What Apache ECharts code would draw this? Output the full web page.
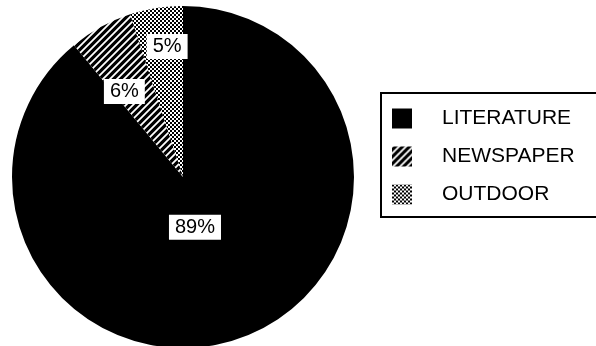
<!DOCTYPE html>
<html>
<head>
<meta charset="utf-8">
<script src="https://cdn.jsdelivr.net/npm/echarts@6/dist/echarts.min.js"></script>
<style>
  html, body { margin: 0; padding: 0; background: #fff; }
  #chart { width: 596px; height: 346px; }
</style>
</head>
<body>
<div id="chart"></div>
<script>
// Media share by channel
const categories = ['LITERATURE', 'NEWSPAPER', 'OUTDOOR'];
const shares = [89, 6, 5];
const shareLabels = ['89%', '6%', '5%'];

// Fine-tuning of where each percentage box sits inside its slice
const labelOffsets = [[-18, -33], [-16, -8], [-2, -43]];

// Black fill with thin white diagonal strokes
function stripeTile() {
  const s = 7;
  const c = document.createElement('canvas');
  c.width = s; c.height = s;
  const g = c.getContext('2d');
  g.fillStyle = '#000';
  g.fillRect(0, 0, s, s);
  g.strokeStyle = '#fff';
  g.lineWidth = 1.8;
  g.beginPath();
  g.moveTo(0, s); g.lineTo(s, 0);
  g.moveTo(-2, 2); g.lineTo(2, -2);
  g.moveTo(s - 2, s + 2); g.lineTo(s + 2, s - 2);
  g.stroke();
  return c;
}

// Small checkerboard screen
function checkTile() {
  const c = document.createElement('canvas');
  c.width = 4; c.height = 4;
  const g = c.getContext('2d');
  g.fillStyle = '#fff';
  g.fillRect(0, 0, 4, 4);
  g.fillStyle = '#000';
  g.fillRect(0, 0, 2, 2);
  g.fillRect(2, 2, 2, 2);
  return c;
}

const fills = [
  '#000',
  { image: stripeTile(), repeat: 'repeat' },
  { image: checkTile(), repeat: 'repeat' }
];

const chart = echarts.init(document.getElementById('chart'), null, { renderer: 'canvas' });

chart.setOption({
  animation: false,
  backgroundColor: '#fff',
  legend: {
    orient: 'vertical',
    left: 381,
    top: 93,
    padding: [15, 30, 12, 11],
    borderColor: '#000',
    borderWidth: 2,
    itemWidth: 20,
    itemHeight: 20,
    itemGap: 17,
    icon: 'rect',
    selectedMode: false,
    textStyle: {
      fontFamily: 'Liberation Sans, Arial, sans-serif',
      fontSize: 21,
      color: '#000',
      padding: [0, 0, 0, 25]
    },
    data: categories
  },
  series: [{
    type: 'pie',
    center: [183, 177],
    radius: 171,
    startAngle: 90,
    clockwise: true,
    avoidLabelOverlap: false,
    silent: true,
    labelLine: { show: false },
    itemStyle: { borderWidth: 0 },
    data: categories.map((name, i) => ({
      name: name,
      value: shares[i],
      itemStyle: { color: fills[i] },
      label: {
        show: true,
        position: 'inside',
        formatter: shareLabels[i],
        offset: labelOffsets[i],
        fontFamily: 'Liberation Sans, Arial, sans-serif',
        fontSize: 20,
        color: '#000',
        backgroundColor: '#fff',
        padding: [3, 6, 2, 6]
      }
    }))
  }]
});
</script>
</body>
</html>
